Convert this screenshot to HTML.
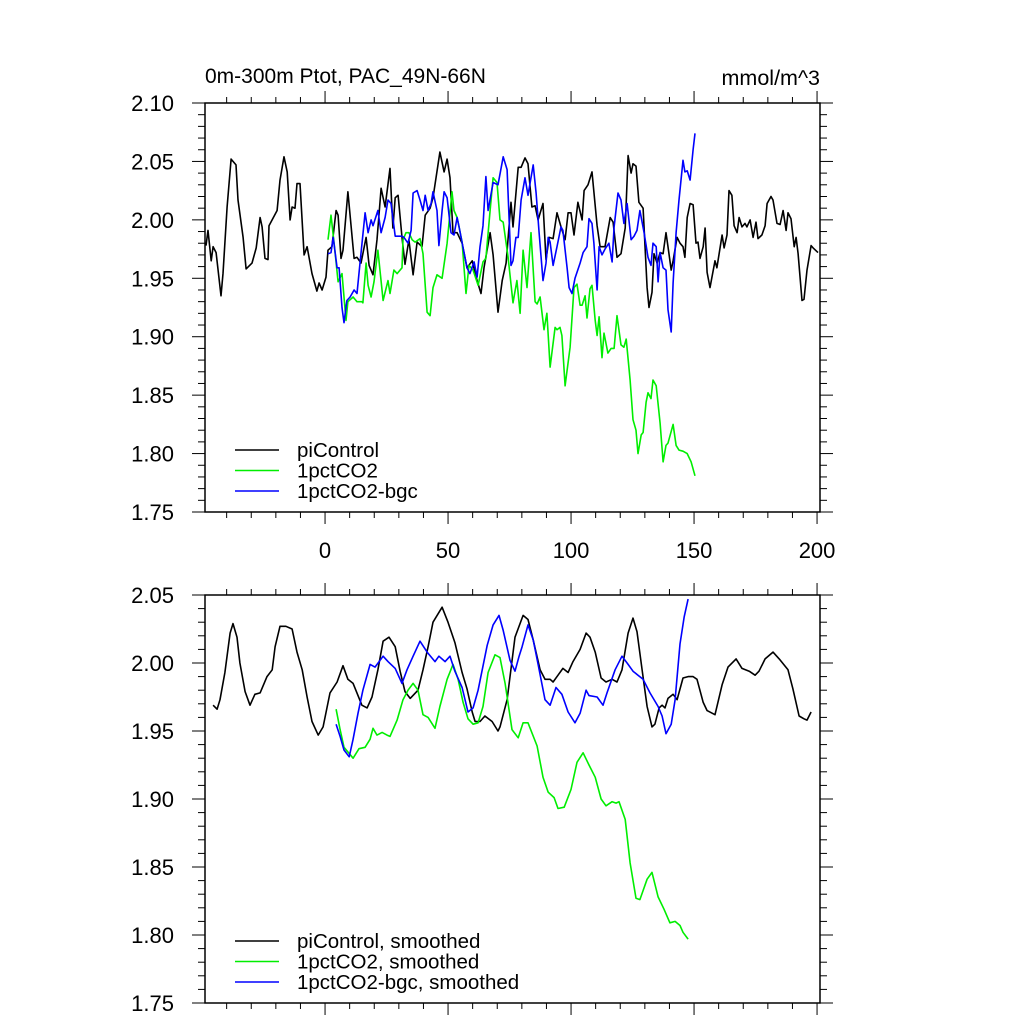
<!DOCTYPE html>
<html><head><meta charset="utf-8"><style>
html,body{margin:0;padding:0;background:#fff}
svg{display:block;font-family:"Liberation Sans",sans-serif}
</style></head><body>
<svg id="chart" width="1024" height="1024" viewBox="0 0 1024 1024" xmlns="http://www.w3.org/2000/svg"></svg>
<script>
// ---- data: top panel (annual) ----
const ctrlYears=[-48.4,-47.6,-46.3,-45.5,-44.3,-42.3,-41.5,-39.8,-38.2,-36.2,-35.4,-33.3,-32.1,-29.7,-28.0,-26.4,-25.6,-24.4,-23.2,-22.8,-19.5,-18.3,-16.7,-15.4,-14.2,-13.4,-12.2,-11.4,-10.2,-8.5,-7.3,-5.3,-3.3,-2.4,-1.2,0.4,1.2,2.8,4.5,5.3,6.5,7.3,9.3,11.8,13.0,14.6,16.7,17.9,19.5,21.1,22.8,24.4,26.4,27.6,28.5,29.7,31.3,32.5,34.1,35.8,37.4,39.4,40.7,42.7,43.9,46.7,48.4,49.6,50.8,52.0,53.7,55.7,57.7,59.8,61.4,63.4,64.6,67.1,68.3,70.3,72.0,73.6,75.6,76.4,78.5,79.7,81.3,82.5,84.1,85.4,86.6,88.6,89.8,91.1,92.7,94.3,95.9,97.6,98.8,100.0,101.2,102.8,104.5,105.3,106.9,108.5,110.6,111.8,113.8,115.9,117.1,118.7,120.3,122.0,123.2,124.4,125.2,126.4,127.6,129.3,130.9,131.7,132.9,133.7,135.0,136.2,137.4,138.6,139.4,140.7,141.5,143.1,144.3,145.5,146.3,147.2,148.4,149.6,150.8,151.6,152.4,153.7,154.5,155.3,156.5,158.5,159.3,161.4,162.2,163.4,164.2,165.4,166.3,167.5,168.3,169.5,170.7,171.5,172.8,174.0,175.2,176.0,177.6,178.9,179.7,181.3,182.1,183.7,185.0,186.2,187.4,188.2,189.4,190.7,191.5,192.3,193.9,194.7,195.9,197.6,198.4,200.4];
const ctrlVals=[1.978,1.991,1.965,1.977,1.972,1.935,1.954,2.011,2.052,2.047,2.017,1.985,1.958,1.963,1.976,2.002,1.994,1.967,1.966,1.995,2.008,2.034,2.054,2.041,2.000,2.011,2.010,2.031,2.031,1.970,1.977,1.954,1.939,1.946,1.940,1.951,1.974,1.977,2.008,2.004,1.967,1.974,2.024,1.967,1.968,1.963,1.985,1.961,1.953,1.983,2.027,2.011,2.044,1.993,2.019,2.021,1.985,1.962,1.983,1.953,1.981,1.977,2.004,2.010,2.019,2.058,2.041,2.052,2.036,1.989,1.989,1.980,1.959,1.965,1.951,1.937,1.959,1.989,1.970,1.921,1.948,1.963,2.015,1.994,2.045,2.045,2.053,2.048,2.011,2.012,2.000,2.014,1.966,1.985,1.984,2.006,1.994,1.983,2.006,2.006,1.987,2.015,2.000,2.025,2.030,2.041,1.995,1.977,1.977,2.002,1.998,1.968,1.971,1.993,2.055,2.040,2.048,2.046,2.015,2.010,1.942,1.925,1.938,1.971,1.963,1.972,1.971,1.989,1.977,1.957,1.965,1.985,1.980,1.977,1.968,2.002,2.014,2.013,1.980,1.981,1.967,1.977,1.993,1.955,1.942,1.965,1.959,1.987,1.976,1.987,2.025,2.021,1.995,1.989,2.002,1.994,1.997,1.994,2.000,1.985,1.998,1.984,1.987,1.995,2.014,2.020,2.017,1.997,1.996,2.008,1.991,2.006,2.001,1.977,1.985,1.971,1.931,1.932,1.957,1.978,1.976,1.972];
const co2Years=[1.2,2.4,3.7,5.3,6.9,8.5,9.3,11.4,13.0,15.0,15.4,16.7,17.5,18.7,19.9,21.5,23.6,25.6,26.4,28.0,29.3,31.3,31.7,32.9,34.1,35.4,36.6,38.6,39.8,41.5,42.7,43.9,45.5,47.6,49.6,51.6,52.4,53.7,55.7,57.3,58.5,60.2,62.2,64.2,65.4,67.1,68.3,69.9,71.1,72.4,74.4,76.4,78.0,79.3,80.5,82.1,83.7,85.4,86.2,87.4,89.0,90.2,91.5,93.5,94.3,95.5,96.3,97.6,99.6,101.2,102.4,103.7,104.5,105.7,106.5,107.7,108.5,109.8,110.6,111.4,112.6,113.4,115.0,116.3,117.5,118.7,120.3,121.5,122.4,124.0,125.2,126.4,127.2,128.5,129.3,130.5,131.3,132.5,133.3,134.6,136.2,137.4,138.6,139.4,141.5,142.7,143.9,145.5,147.2,148.8,150.4];
const co2Vals=[1.983,2.004,1.980,1.947,1.954,1.914,1.930,1.934,1.930,1.930,1.929,1.963,1.944,1.934,1.947,1.974,1.931,1.948,1.937,1.957,1.954,1.959,1.983,1.989,1.989,1.983,1.981,1.984,1.971,1.921,1.918,1.942,1.953,1.950,1.980,2.024,2.008,2.002,1.981,1.937,1.961,1.957,1.944,1.964,1.967,2.008,2.036,2.032,2.000,1.998,1.968,1.929,1.948,1.920,1.974,1.942,1.989,1.930,1.928,1.934,1.906,1.920,1.874,1.908,1.906,1.908,1.901,1.858,1.891,1.942,1.945,1.927,1.927,1.935,1.916,1.941,1.944,1.914,1.901,1.917,1.882,1.903,1.886,1.890,1.890,1.918,1.893,1.891,1.898,1.863,1.829,1.820,1.800,1.816,1.818,1.844,1.852,1.847,1.863,1.858,1.826,1.793,1.807,1.809,1.825,1.807,1.803,1.802,1.800,1.793,1.781];
const bgcYears=[1.2,2.4,3.3,4.9,5.7,6.9,7.7,8.9,10.2,11.8,13.0,14.2,16.3,17.5,18.7,19.5,21.5,22.8,24.4,25.6,26.8,28.5,31.3,32.1,33.7,35.0,35.8,37.4,38.6,39.8,40.7,41.9,43.1,43.9,45.5,46.3,47.6,48.4,49.6,51.2,52.4,53.7,54.5,56.1,57.7,58.9,60.6,61.8,63.0,64.2,65.4,66.3,68.3,70.3,72.4,74.0,75.6,76.4,77.6,78.5,79.7,81.3,82.5,84.6,85.8,87.0,88.6,89.8,90.7,91.5,92.7,94.3,95.9,96.7,98.4,99.2,100.4,101.6,103.7,104.9,106.5,107.3,108.5,109.3,110.6,111.4,112.6,113.8,115.4,116.7,117.5,119.1,120.3,121.5,122.8,124.4,125.6,126.8,128.0,129.7,131.3,132.5,133.3,134.6,135.4,136.2,137.4,138.6,139.4,140.7,141.5,142.7,143.9,145.5,146.3,147.2,148.4,149.6,150.4];
const bgcVals=[1.971,1.972,1.985,1.959,1.959,1.925,1.912,1.931,1.934,1.940,1.937,1.963,2.006,1.989,2.000,1.995,2.008,1.989,2.002,2.017,2.014,1.986,1.986,1.985,1.980,1.991,2.023,2.025,2.017,2.008,2.021,2.008,2.014,2.024,2.008,1.978,2.008,2.024,2.019,1.989,1.987,2.002,1.994,1.976,1.959,1.954,1.964,1.951,1.977,1.995,2.037,2.008,2.032,2.030,2.054,2.043,1.961,1.965,1.985,1.985,2.017,2.036,2.021,2.047,2.023,1.989,1.948,1.963,1.985,1.981,1.961,1.977,1.994,1.991,1.959,1.942,1.937,1.950,1.963,1.972,1.977,2.001,1.997,1.980,1.940,1.977,1.970,1.975,1.980,1.964,1.994,2.023,2.017,1.997,2.014,1.983,1.986,1.991,2.008,1.989,1.968,1.961,1.980,1.977,1.947,1.972,1.959,1.957,1.923,1.904,1.946,1.989,2.017,2.051,2.041,2.042,2.034,2.060,2.074];
// ---- data: bottom panel (smoothed) ----
const ctrlSmYears=[-45.5,-43.9,-42.7,-40.7,-38.6,-37.4,-35.8,-34.6,-32.5,-30.5,-28.5,-26.4,-23.6,-21.5,-20.3,-18.3,-15.9,-13.4,-11.4,-9.3,-7.3,-5.3,-2.8,-0.8,2.0,4.9,7.3,9.3,11.4,15.0,17.1,19.1,21.5,23.6,26.0,28.5,30.5,32.5,34.6,37.8,39.8,41.9,43.9,47.6,50.0,52.8,55.7,57.7,59.8,61.0,63.0,65.0,67.9,70.3,71.1,74.0,77.2,80.5,82.5,84.6,87.4,89.4,91.5,92.7,94.7,96.7,98.8,100.8,103.7,106.1,107.7,109.8,112.2,114.2,116.7,118.7,120.7,123.2,125.2,126.8,128.9,130.9,132.9,134.1,135.8,137.0,138.2,139.4,141.5,143.1,145.5,147.6,149.6,151.2,153.7,155.3,158.5,161.4,163.8,167.1,169.5,172.4,174.8,176.4,178.9,182.1,184.6,188.2,190.2,192.7,194.7,195.9,197.6];
const ctrlSmVals=[1.969,1.966,1.973,1.993,2.022,2.029,2.019,2.000,1.979,1.969,1.977,1.978,1.990,1.995,2.012,2.027,2.027,2.025,2.008,1.995,1.975,1.957,1.947,1.953,1.978,1.986,1.998,1.988,1.985,1.969,1.967,1.975,1.995,2.016,2.019,2.012,1.994,1.979,1.974,1.980,1.995,2.012,2.030,2.041,2.030,2.015,1.993,1.981,1.964,1.957,1.957,1.961,1.957,1.950,1.953,1.973,2.019,2.035,2.032,2.017,1.995,1.988,1.988,1.986,1.991,1.996,1.993,2.001,2.010,2.022,2.019,2.008,1.989,1.986,1.988,1.986,1.995,2.022,2.033,2.023,1.995,1.968,1.953,1.955,1.967,1.969,1.967,1.974,1.977,1.973,1.989,1.990,1.990,1.988,1.971,1.965,1.962,1.984,1.997,2.003,1.996,1.994,1.991,1.994,2.003,2.008,2.003,1.995,1.981,1.961,1.959,1.958,1.964];
const co2SmYears=[4.5,6.1,7.7,11.4,13.8,16.3,18.3,19.5,21.1,23.2,25.2,26.4,29.3,31.7,33.7,35.8,37.8,39.8,41.9,44.7,46.7,49.6,52.0,54.1,56.1,58.1,60.2,62.2,64.2,66.3,69.1,71.1,73.2,76.0,78.5,80.5,82.5,86.2,88.6,90.7,93.1,94.7,97.2,100.0,102.4,104.9,107.3,109.8,112.2,114.2,116.7,118.3,119.5,122.0,124.0,126.4,128.0,130.9,132.9,135.4,137.8,140.2,142.3,144.3,145.5,147.6];
const co2SmVals=[1.966,1.951,1.938,1.930,1.937,1.938,1.944,1.952,1.947,1.949,1.947,1.946,1.958,1.973,1.980,1.985,1.980,1.962,1.960,1.952,1.968,1.988,1.999,1.988,1.971,1.959,1.955,1.956,1.968,1.993,2.006,2.004,1.985,1.951,1.945,1.956,1.956,1.939,1.916,1.905,1.901,1.893,1.894,1.907,1.927,1.934,1.925,1.916,1.900,1.895,1.898,1.897,1.898,1.885,1.853,1.827,1.826,1.841,1.846,1.828,1.819,1.809,1.810,1.807,1.802,1.797];
const bgcSmYears=[4.5,6.1,7.7,9.8,11.4,13.4,15.4,18.3,20.3,23.6,25.6,28.5,31.3,33.3,35.8,38.6,41.5,44.7,46.3,48.8,50.8,52.8,55.7,58.1,60.2,62.2,65.9,68.3,70.7,72.4,75.2,77.2,78.9,80.1,82.5,84.6,86.6,89.4,91.5,93.9,96.3,98.8,101.6,103.7,106.1,107.3,110.6,113.0,114.6,117.9,120.7,123.2,125.2,127.2,129.3,132.1,135.4,137.0,138.6,140.7,142.3,144.3,146.0,147.6];
const bgcSmVals=[1.955,1.946,1.936,1.931,1.944,1.963,1.980,1.999,1.997,2.005,2.001,1.996,1.985,1.995,2.005,2.016,2.008,2.001,2.005,2.001,2.005,1.994,1.982,1.964,1.967,1.980,2.013,2.028,2.035,2.024,2.002,1.994,2.005,2.012,2.028,2.017,1.999,1.973,1.969,1.982,1.977,1.964,1.956,1.963,1.980,1.976,1.975,1.969,1.978,1.995,2.005,1.999,1.994,1.991,1.988,1.978,1.968,1.961,1.948,1.955,1.973,2.014,2.034,2.047];
const xTickVals=[0,50,100,150,200];
const topYTicks=["1.75","1.80","1.85","1.90","1.95","2.00","2.05","2.10"];
const botYTicks=["1.75","1.80","1.85","1.90","1.95","2.00","2.05"];
const topLegend=["piControl","1pctCO2","1pctCO2-bgc"];
const botLegend=["piControl, smoothed","1pctCO2, smoothed","1pctCO2-bgc, smoothed"];
const colors=["#000000","#00ee00","#0000ff"];

const NS="http://www.w3.org/2000/svg";
const svg=document.getElementById('chart');
function mk(tag,attrs,parent){const e=document.createElementNS(NS,tag);for(const k in attrs)e.setAttribute(k,attrs[k]);(parent||svg).appendChild(e);return e;}
const X0=205,X1=820,XMIN=-48.8,XMAX=201.2;
function xs(v){return X0+(v-XMIN)/(XMAX-XMIN)*(X1-X0);}

function panel(name,top,bottom,ymin,ymax,yticks,series,legend,legY,showX){
  const g=mk('g',{});
  
  
  const ys=v=>bottom-(v-ymin)/(ymax-ymin)*(bottom-top);
  series.forEach((s,i)=>{
    const d=s[0].map((x,j)=>(j?'L':'M')+xs(x).toFixed(1)+','+ys(s[1][j]).toFixed(1)).join('');
    const p=mk('path',{d:d,fill:'none',stroke:colors[i],'stroke-width':1.6,'stroke-linejoin':'round'},g);
    
    
  });
  const fr=mk('rect',{x:X0,y:top,width:X1-X0,height:bottom-top,fill:'none',stroke:'#000','stroke-width':1.5},g);
  
  
  // x ticks (outward)
  for(let v=-40;v<=200;v+=10){
    const x=xs(v),L=(v%50===0)?12:6;
    mk('line',{x1:x,y1:bottom,x2:x,y2:bottom+L,stroke:'#000','stroke-width':1},g);
    mk('line',{x1:x,y1:top,x2:x,y2:top-L,stroke:'#000','stroke-width':1},g);
  }
  // y ticks (outward)
  const nMin=Math.round((ymax-ymin)/0.01);
  for(let k=0;k<=nMin;k++){
    const y=ys(ymin+k*0.01),L=(k%5===0)?13:7;
    mk('line',{x1:X0,y1:y,x2:X0-L,y2:y,stroke:'#000','stroke-width':1},g);
    mk('line',{x1:X1,y1:y,x2:X1+L,y2:y,stroke:'#000','stroke-width':1},g);
  }
  yticks.forEach(t=>{
    const tx=mk('text',{x:174,y:ys(parseFloat(t))+8,'text-anchor':'end','font-size':22},g);
    tx.textContent=t;
    
    
  });
  if(showX){
    xTickVals.forEach(v=>{
      const tx=mk('text',{x:xs(v),y:bottom+46,'text-anchor':'middle','font-size':22},g);
      tx.textContent=String(v);
      
      
    });
  }
  legend.forEach((l,i)=>{
    const y=legY+i*20.5;
    const ln=mk('line',{x1:235,y1:y,x2:279,y2:y,stroke:colors[i],'stroke-width':1.6},g);
    
    
    const tx=mk('text',{x:297,y:y+7,'font-size':20.5},g);
    tx.textContent=l;
    
    
  });
}
panel('top-panel',103,512,1.75,2.10,topYTicks,[[ctrlYears,ctrlVals],[co2Years,co2Vals],[bgcYears,bgcVals]],topLegend,450,true);
panel('bottom-panel',595,1003,1.75,2.05,botYTicks,[[ctrlSmYears,ctrlSmVals],[co2SmYears,co2SmVals],[bgcSmYears,bgcSmVals]],botLegend,941,false);
const t1=mk('text',{x:205,y:83,'font-size':21});
t1.textContent='0m-300m Ptot, PAC_49N-66N';


const t2=mk('text',{x:820,y:85,'font-size':21.5,'text-anchor':'end'});
t2.textContent='mmol/m^3';


</script>
</body></html>
